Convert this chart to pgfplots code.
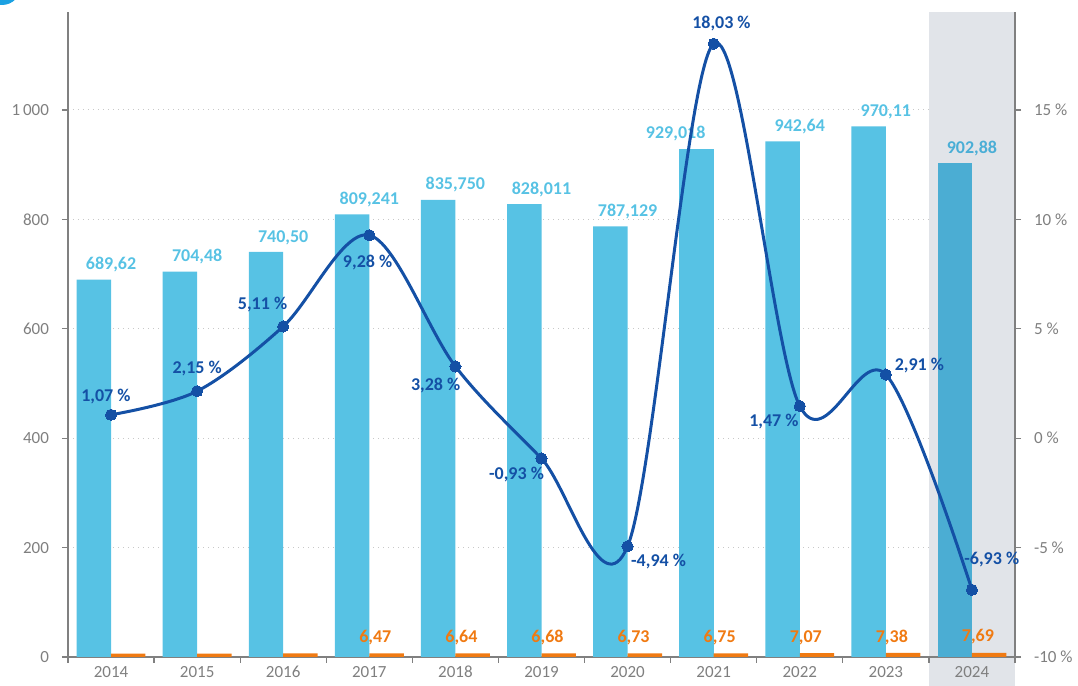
\documentclass[border=0pt]{standalone}
\usepackage{pgfplots}
\pgfplotsset{compat=1.18}
\usepackage{pgfplotstable}
\usepackage{fontspec}
\setmainfont{Carlito}

\definecolor{barblue}{HTML}{57C2E4}
\definecolor{barblue2}{HTML}{4BADD3}
\definecolor{lblblue2}{HTML}{4AAED6}
\definecolor{barorange}{HTML}{F07A12}
\definecolor{linecol}{HTML}{1450A5}
\definecolor{hlgrey}{HTML}{E1E4E9}
\definecolor{axisgrey}{HTML}{808080}
\definecolor{gridgrey}{HTML}{C8C8C8}
\definecolor{labelgrey}{HTML}{7F7F7F}
\definecolor{topblue}{HTML}{1BA1E2}

\pgfplotstableread{
x y lab
0 689.62 689,62
1 704.48 704,48
2 740.50 740,50
3 809.241 809,241
4 835.750 835,750
5 828.011 828,011
6 787.129 787,129
8 942.64 942,64
9 970.11 970,11
}\bluedata

\pgfplotstableread{
x y lab
7 929.018 929,018
}\bluetwentyone

\pgfplotstableread{
x y lab
10 902.88 902,88
}\bluelast

\pgfplotstableread{
x y
0 6.2
1 6.3
2 6.4
}\orangeearly

\pgfplotstableread{
x y lab
3 6.47 6,47
4 6.64 6,64
5 6.68 6,68
6 6.73 6,73
7 6.75 6,75
8 7.07 7,07
9 7.38 7,38
10 7.69 7,69
}\orangedata

\pgfplotstableread{
x y
0 1.07
1 2.15
2 5.11
3 9.28
4 3.28
5 -0.93
6 -4.94
7 18.03
8 1.47
9 2.91
10 -6.93
}\pctdata

\pgfplotsset{
  common/.style={
    at={(34pt,14.5pt)}, anchor=south west,
    scale only axis, width=473.5pt, height=322.5pt,
    xmin=-0.5, xmax=10.5, clip=false,
  },
}
\tikzset{lbl/.style={font=\fontsize{9}{10}\selectfont\bfseries}}

\begin{document}
\begin{tikzpicture}
\path[use as bounding box] (0,0) rectangle (539pt,343pt);
\fill[topblue] (1pt,350pt) circle (9.5pt);
% background: highlight and grid
\begin{axis}[common, ymin=0, ymax=1179, hide axis]
\fill[hlgrey] (axis cs:9.5,1179) rectangle ([yshift=-15pt]axis cs:10.5,0);
\draw[dotted, gridgrey, line width=0.5pt] (axis cs:-0.5,200) -- (axis cs:9.5,200);
\draw[dotted, gridgrey, line width=0.5pt] (axis cs:-0.5,400) -- (axis cs:9.5,400);
\draw[dotted, gridgrey, line width=0.5pt] (axis cs:-0.5,600) -- (axis cs:9.5,600);
\draw[dotted, gridgrey, line width=0.5pt] (axis cs:-0.5,800) -- (axis cs:9.5,800);
\draw[dotted, gridgrey, line width=0.5pt] (axis cs:-0.5,1000) -- (axis cs:9.5,1000);
\end{axis}
\begin{axis}[common,
  ymin=0, ymax=1179,
  axis y line*=left, axis x line*=bottom,
  axis line style={-, draw=axisgrey, line width=0.6pt},
  xtick={-0.5,0.5,...,10.5}, xticklabels={},
  extra x ticks={0,1,...,10},
  extra x tick labels={2014,2015,2016,2017,2018,2019,2020,2021,2022,2023,2024},
  extra x tick style={major tick length=0pt},
  ytick={0,200,...,1000},
  /pgf/number format/1000 sep={\,},
  /pgf/number format/assume math mode=true,
  tick align=outside, major tick length=3pt,
  tick style={draw=axisgrey, line width=0.6pt},
  tick label style={font=\fontsize{8.5}{10}\selectfont, text=labelgrey},
  yticklabel style={xshift=-3pt},
  xticklabel style={yshift=-1pt},
]
\addplot[ybar, bar width=0.4, bar shift=-0.2, fill=barblue, draw=none,
  nodes near coords, point meta=explicit symbolic,
  nodes near coords style={anchor=south, inner sep=0pt, yshift=3.5pt, lbl, text=barblue}]
  table[x=x, y=y, meta=lab] {\bluedata};
\addplot[ybar, bar width=0.4, bar shift=-0.2, fill=barblue, draw=none,
  nodes near coords, point meta=explicit symbolic,
  nodes near coords style={anchor=south, inner sep=0pt, yshift=3.5pt, xshift=-19pt, lbl, text=barblue}]
  table[x=x, y=y, meta=lab] {\bluetwentyone};
\addplot[ybar, bar width=0.4, bar shift=-0.2, fill=barblue2, draw=none,
  nodes near coords, point meta=explicit symbolic,
  nodes near coords style={anchor=south, inner sep=0pt, yshift=3.5pt, lbl, text=lblblue2}]
  table[x=x, y=y, meta=lab] {\bluelast};
\addplot[ybar, bar width=0.4, bar shift=0.2, fill=barorange, draw=none]
  table[x=x, y=y] {\orangeearly};
\addplot[ybar, bar width=0.4, bar shift=0.2, fill=barorange, draw=none,
  nodes near coords, point meta=explicit symbolic,
  nodes near coords style={anchor=south, inner sep=0pt, yshift=4pt, xshift=3pt, lbl, text=barorange}]
  table[x=x, y=y, meta=lab] {\orangedata};
\end{axis}
\begin{axis}[common,
  ymin=-10, ymax=19.48,
  axis y line*=right, axis x line=none,
  axis line style={-, draw=axisgrey, line width=0.6pt},
  ytick={-10,-5,0,5,10,15},
  yticklabels={-10 \%,-5 \%,0 \%,5 \%,10 \%,15 \%},
  tick align=outside, major tick length=3pt,
  tick style={draw=axisgrey, line width=0.6pt},
  tick label style={font=\fontsize{8.5}{10}\selectfont, text=labelgrey},
  yticklabel style={xshift=3pt},
]
\addplot[smooth, tension=0.55, line width=1.5pt, color=linecol,
  mark=*, mark size=2.8pt, mark options={fill=linecol, draw=linecol, line width=0pt}]
  table[x=x, y=y] {\pctdata};
\begin{scope}[every node/.style={lbl, text=linecol, inner sep=0pt}]
\node at (axis cs:-0.06,1.92) {1,07 \%};
\node at (axis cs:1.0,3.20) {2,15 \%};
\node at (axis cs:1.76,6.12) {5,11 \%};
\node at (axis cs:2.98,8.04) {9,28 \%};
\node at (axis cs:3.77,2.42) {3,28 \%};
\node at (axis cs:4.71,-1.65) {-0,93 \%};
\node at (axis cs:6.36,-5.62) {-4,94 \%};
\node at (axis cs:7.09,18.97) {18,03 \%};
\node at (axis cs:7.70,0.78) {1,47 \%};
\node at (axis cs:9.39,3.34) {2,91 \%};
\node at (axis cs:10.23,-5.53) {-6,93 \%};
\end{scope}
\end{axis}
\end{tikzpicture}
\end{document}
